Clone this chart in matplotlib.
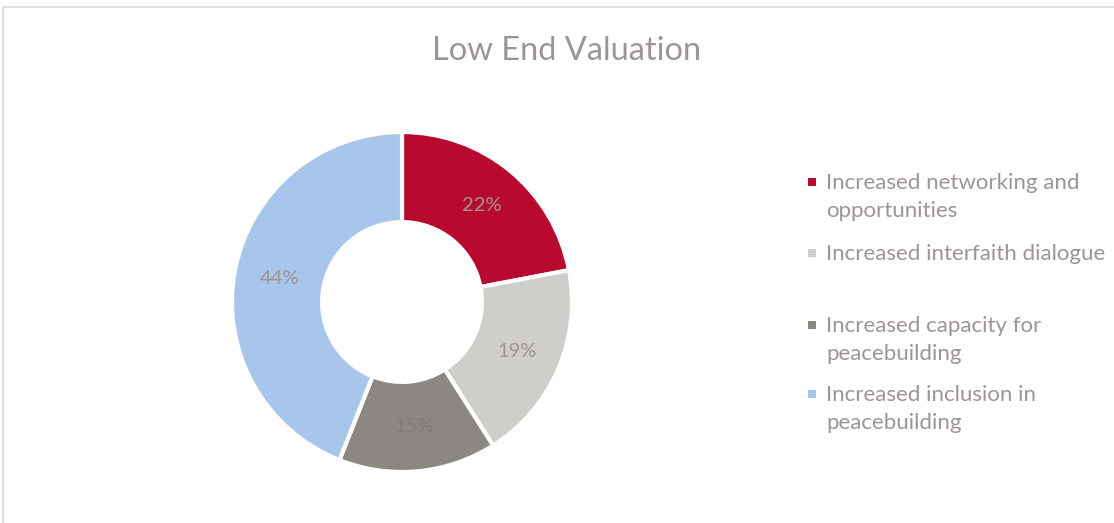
import matplotlib.pyplot as plt
import numpy as np
from matplotlib.patches import Rectangle

categories = ["Increased networking and\nopportunities",
              "Increased interfaith dialogue",
              "Increased capacity for\npeacebuilding",
              "Increased inclusion in\npeacebuilding"]
values = [22, 19, 15, 44]
colors = ["#B80A2E", "#D0CECA", "#8B8782", "#A8C6EC"]
label_colors = ["#9C9593", "#9C9593", "#827C79", "#9C9593"]

plt.rcParams['font.family'] = ['Lato', 'DejaVu Sans']
txt = "#9C9593"

fig = plt.figure(figsize=(11.14, 5.23), dpi=100)
fig.patches.append(Rectangle((3 / 1114, -0.1), 1.2, 1 - 7 / 523 + 0.1,
                             transform=fig.transFigure, fill=False,
                             edgecolor="#D9D9D9", linewidth=1.2))

W, H = 1114, 523
cx, cy, r = 402, 302, 170
ax = fig.add_axes([(cx - r) / W, (H - cy - r) / H, 2 * r / W, 2 * r / H])
wedges, _ = ax.pie(values, colors=colors, startangle=90, counterclock=False,
                   radius=1.0, wedgeprops=dict(width=0.53, edgecolor="white", linewidth=3))
ax.set_xlim(-1, 1)
ax.set_ylim(-1, 1)
ax.set_aspect('equal')
ax.axis('off')

# data labels in the middle of the ring
ang = 90
for v, c in zip(values, label_colors):
    mid = np.deg2rad(ang - v * 3.6 / 2)
    ax.text(0.735 * np.cos(mid), 0.735 * np.sin(mid), f"{v}%", ha="center", va="center",
            fontsize=14.5, color=c)
    ang -= v * 3.6

fig.text(567 / W, 1 - 51 / H, "Low End Valuation", ha="center", va="center",
         fontsize=23.5, color=txt)

leg_y = [182, 253, 325, 394]
for lab, c, y in zip(categories, colors, leg_y):
    fig.patches.append(Rectangle((808 / W, 1 - (y + 4) / H), 8 / W, 8 / H,
                                 transform=fig.transFigure, facecolor=c, edgecolor="none"))
    fig.text(826 / W, 1 - (y - 9) / H, lab, ha="left", va="top", fontsize=16,
             color=txt, linespacing=1.5)

fig.savefig("out.png", dpi=100)
